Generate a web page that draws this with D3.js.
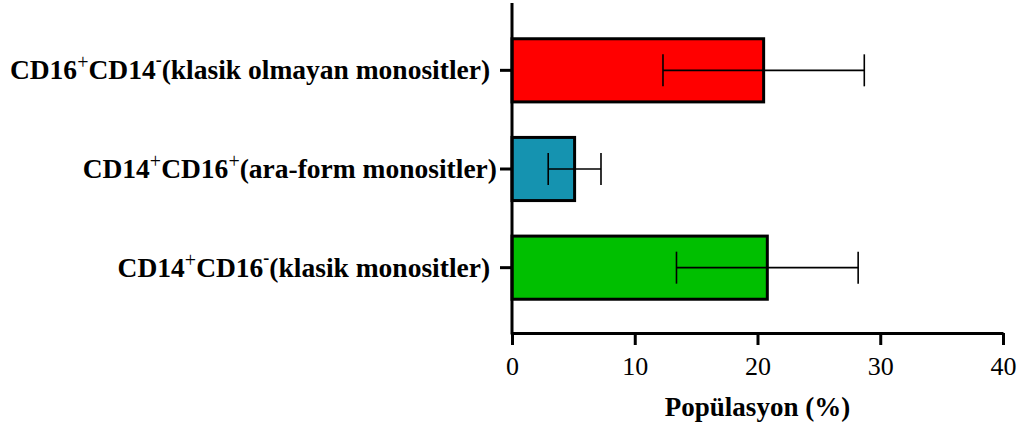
<!DOCTYPE html>
<html>
<head>
<meta charset="utf-8">
<script src="https://cdn.jsdelivr.net/npm/d3@7"></script>
<style>
  html, body { margin: 0; padding: 0; background: #fff; }
  svg text { font-family: "Liberation Serif", "Times New Roman", serif !important; }
</style>
</head>
<body>
<svg id="chart" width="1025" height="430"></svg>
<script>
// Monocyte subsets, top to bottom
const categories = ["nonclassical", "intermediate", "classical"];
// Label parts: [text, superscript?]
const labelParts = [
  [["CD16", false], ["+", true], ["CD14", false], ["-", true], ["(klasik olmayan monositler) ", false]],
  [["CD14", false], ["+", true], ["CD16", false], ["+", true], ["(ara-form monositler)", false]],
  [["CD14", false], ["+", true], ["CD16", false], ["-", true], ["(klasik monositler) ", false]]
];
const means = [20.5, 5.1, 20.8];
const sds = [8.2, 2.15, 7.4];
const colors = ["#ff0000", "#1593b0", "#00bf00"];
const xTicks = [0, 10, 20, 30, 40];
const xTitle = "Popülasyon (%)";

const svg = d3.select("#chart");

const x = d3.scaleLinear().domain([0, 40]).range([512, 1003]);
const y = d3.scaleBand().domain(categories).range([21, 317]).paddingInner(0.36).paddingOuter(0.18);

// Bars
svg.append("g").selectAll("rect")
  .data(categories)
  .join("rect")
  .attr("x", x(0))
  .attr("y", d => y(d))
  .attr("width", (d, i) => x(means[i]) - x(0))
  .attr("height", y.bandwidth())
  .attr("fill", (d, i) => colors[i])
  .attr("stroke", "#000")
  .attr("stroke-width", 3);

// Error bars (mean ± SD)
const err = svg.append("g").attr("stroke", "#000").attr("stroke-width", 1.6);
categories.forEach((c, i) => {
  const cy = y(c) + y.bandwidth() / 2;
  const lo = x(means[i] - sds[i]), hi = x(means[i] + sds[i]);
  err.append("line").attr("x1", lo).attr("x2", hi).attr("y1", cy).attr("y2", cy);
  err.append("line").attr("x1", lo).attr("x2", lo).attr("y1", cy - 16).attr("y2", cy + 16);
  err.append("line").attr("x1", hi).attr("x2", hi).attr("y1", cy - 16).attr("y2", cy + 16);
});

// X axis
const xAxis = svg.append("g")
  .attr("transform", "translate(0,333)")
  .call(d3.axisBottom(x).tickValues(xTicks).tickSize(12).tickSizeOuter(0).tickPadding(12));
xAxis.attr("font-family", "Liberation Serif");
xAxis.select(".domain").attr("stroke-width", 3);
xAxis.selectAll(".tick line").attr("stroke-width", 3);
xAxis.selectAll(".tick text")
  .attr("font-size", 26)
  .attr("fill", "#000");

// Y axis line (extends above the first band)
svg.append("line")
  .attr("x1", 512).attr("x2", 512)
  .attr("y1", 3).attr("y2", 334.5)
  .attr("stroke", "#000").attr("stroke-width", 3);

// Y ticks and labels
const yTicks = svg.append("g");
categories.forEach((c, i) => {
  const cy = y(c) + y.bandwidth() / 2;
  yTicks.append("line")
    .attr("x1", 500).attr("x2", 512).attr("y1", cy).attr("y2", cy)
    .attr("stroke", "#000").attr("stroke-width", 3);
  const t = yTicks.append("text")
    .attr("x", 497)
    .attr("y", cy + 9)
    .attr("text-anchor", "end")
    .attr("font-weight", "bold")
    .attr("font-size", 27.5)
    .attr("fill", "#000")
    .attr("xml:space", "preserve");
  labelParts[i].forEach(([s, sup]) => {
    if (sup) {
      t.append("tspan")
        .attr("font-size", s === "-" ? 18 : 20)
        .attr("font-weight", s === "-" ? "bold" : "normal")
        .attr("baseline-shift", s === "-" ? "13" : "10")
        .text(s);
    } else {
      t.append("tspan").text(s);
    }
  });
});

// X axis title
svg.append("text")
  .attr("x", x(20))
  .attr("y", 416)
  .attr("text-anchor", "middle")
  .attr("font-weight", "bold")
  .attr("font-size", 27)
  .attr("fill", "#000")
  .text(xTitle);
</script>
</body>
</html>
